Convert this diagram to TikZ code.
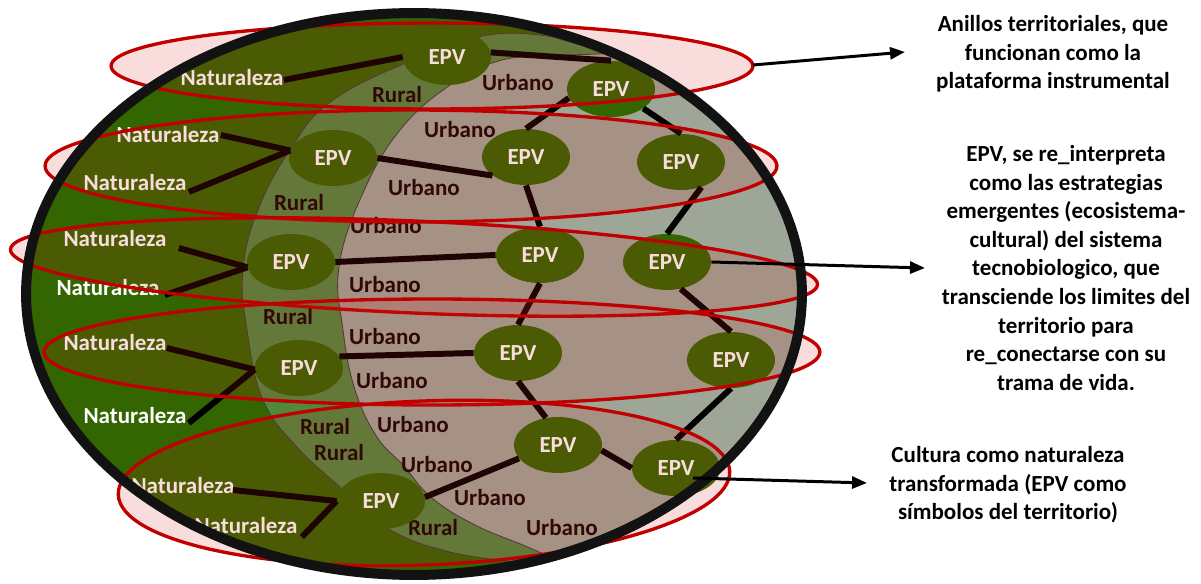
\documentclass[tikz,border=0pt]{standalone}
\usepackage{fontspec}
\setmainfont{Carlito}
\usetikzlibrary{arrows.meta,calc,shapes.geometric}
\definecolor{gouter}{RGB}{51,102,0}
\definecolor{grural}{RGB}{80,136,62}
\definecolor{gurb}{RGB}{158,166,152}
\definecolor{ringfill}{RGB}{215,30,30}
\definecolor{ringline}{RGB}{192,0,0}
\definecolor{dtext}{RGB}{20,5,5}
\newcommand{\mylab}{\fontsize{13.1}{15}\selectfont\bfseries}
\newcommand{\mynote}{\fontsize{13.1}{16.3}\selectfont\bfseries}
\begin{document}
\begin{tikzpicture}[x=0.02cm,y=-0.02cm,
  epv/.style={ellipse, fill=gouter, text=white, minimum width=1.76cm, minimum height=1.12cm, inner sep=0pt, font=\mylab},
  nat/.style={text=white, inner sep=0pt, font=\mylab},
  zone/.style={text=dtext, inner sep=0pt, font=\mylab},
  conn/.style={line width=3.4pt, draw=black},
  ring/.style={fill=ringfill, fill opacity=0.15, draw=ringline, line width=1.9pt},
  arr/.style={line width=1.7pt, draw=black, -{Triangle[length=0.3cm,width=0.24cm]}},
  note/.style={align=center, font=\mynote, inner sep=0pt, text=black},
  thinb/.style={draw=black!75, line width=0.5pt}]
\useasboundingbox (0,0) rectangle (1201,584);
\fill[white] (0,0) rectangle (1201,584);
% big ellipse fill
\fill[gouter] (414,294) ellipse [x radius=7.76cm, y radius=5.62cm];
\begin{scope}
  \clip (414,294) ellipse [x radius=7.76cm, y radius=5.62cm];
  \fill[grural] plot[smooth, tension=0.7] coordinates {(660,40) (597,47) (540,35) (483,36) (420,57) (333,100) (290,150) (258,210) (243,270) (247,330) (263,400) (297,447) (340,487) (387,528) (450,552) (530,565) (600,585)} -- (1000,650) -- (1000,-50) -- cycle;
  \draw[thinb] plot[smooth, tension=0.7] coordinates {(660,40) (597,47) (540,35) (483,36) (420,57) (333,100) (290,150) (258,210) (243,270) (247,330) (263,400) (297,447) (340,487) (387,528) (450,552) (530,565) (600,585)};
  \fill[gurb] plot[smooth, tension=0.7] coordinates {(650,50) (597,54) (540,56) (495,62) (450,85) (400,130) (362,195) (339,267) (343,330) (355,390) (377,437) (403,465) (432,498) (475,525) (530,548) (590,575)} -- (1000,650) -- (1000,-50) -- cycle;
  \draw[thinb] plot[smooth, tension=0.7] coordinates {(650,50) (597,54) (540,56) (495,62) (450,85) (400,130) (362,195) (339,267) (343,330) (355,390) (377,437) (403,465) (432,498) (475,525) (530,548) (590,575)};
\end{scope}
% zone labels
\node[zone] (zr1) at (397,95) {Rural};
\node[zone] (zr2) at (299,203) {Rural};
\node[zone] (zr3) at (288,317) {Rural};
\node[zone] (zr4) at (325,427) {Rural};
\node[zone] (zr5) at (339,453) {Rural};
\node[zone] (zr6) at (433,528) {Rural};
\node[zone] (zu1) at (518,83) {Urbano};
\node[zone] (zu2) at (460,130) {Urbano};
\node[zone] (zu3) at (424,188) {Urbano};
\node[zone] (zu4) at (386,226) {Urbano};
\node[zone] (zu5) at (385,285) {Urbano};
\node[zone] (zu6) at (385,337) {Urbano};
\node[zone] (zu7) at (392,381) {Urbano};
\node[zone] (zu8) at (413,425) {Urbano};
\node[zone] (zu9) at (437,465) {Urbano};
\node[zone] (zu10) at (490,498) {Urbano};
\node[zone] (zu11) at (562,528) {Urbano};
% Naturaleza labels
\node[nat] (n1) at (232,78) {Naturaleza};
\node[nat] (n2a) at (168,135) {Naturaleza};
\node[nat] (n2b) at (135,183) {Naturaleza};
\node[nat] (n3a) at (115,239) {Naturaleza};
\node[nat] (n3b) at (108,288) {Naturaleza};
\node[nat] (n4a) at (115,343) {Naturaleza};
\node[nat] (n4b) at (135,416) {Naturaleza};
\node[nat] (n5a) at (183,486) {Naturaleza};
\node[nat] (n5b) at (246,526) {Naturaleza};
% EPV nodes
\node[epv] (e1) at (447,57) {EPV};
\node[epv] (e2) at (611,89) {EPV};
\node[epv] (e3) at (333,158) {EPV};
\node[epv] (e4) at (526,157) {EPV};
\node[epv] (e5) at (681,162) {EPV};
\node[epv] (e6) at (291,262) {EPV};
\node[epv] (e7) at (540,255) {EPV};
\node[epv] (e8) at (667,262) {EPV};
\node[epv] (e9) at (299,368) {EPV};
\node[epv] (e10) at (518,353) {EPV};
\node[epv] (e11) at (731,360) {EPV};
\node[epv] (e12) at (558,445) {EPV};
\node[epv] (e13) at (676,468) {EPV};
\node[epv] (e14) at (381,501) {EPV};
% connectors
\draw[conn] ([shift={(0,2)}]n1.east) -- (e1.west);
\draw[conn] ([shift={(1,0)}]n2a.east) -- (e3.170);
\draw[conn] ([shift={(2,9)}]n2b.east) -- (e3.170);
\draw[conn] ([shift={(12,9)}]n3a.east) -- (e6.187);
\draw[conn] ([shift={(5,7)}]n3b.east) -- (e6.187);
\draw[conn] ([shift={(0,5)}]n4a.east) -- (e9.182);
\draw[conn] ([shift={(2,7)}]n4b.east) -- (e9.182);
\draw[conn] ([shift={(-2,4)}]n5a.east) -- (e14.west);
\draw[conn] ([shift={(4,11)}]n5b.east) -- (e14.west);
\draw[conn] (e1.6) -- (e2.north);
\draw[conn] (e2.192) -- (e4.north);
\draw[conn] (e2.-31) -- (e5.north);
\draw[conn] (e3.east) -- (e4.209);
\draw[conn] (e4.south) -- (e7.north);
\draw[conn] (e5.-51) -- (e8.north);
\draw[conn] (e6.east) -- (e7.west);
\draw[conn] (e7.south) -- (e10.north);
\draw[conn] (e8.-63) -- (e11.north);
\draw[conn] (e9.16) -- (e10.west);
\draw[conn] (e10.south) -- (e12.114);
\draw[conn] (e11.south) -- (e13.north);
\draw[conn] (e12.-7) -- (e13.west);
\draw[conn] (e12.199) -- (e14.5);
% rings
\path[ring] (432,66) ellipse [x radius=6.42cm, y radius=0.86cm];
\path[ring] (411,166) ellipse [x radius=7.32cm, y radius=1.12cm];
\path[ring, rotate around={-2.5:(414,267)}] (414,267) ellipse [x radius=8.08cm, y radius=0.92cm];
\path[ring] (432,352) ellipse [x radius=7.76cm, y radius=1.06cm];
\path[ring, rotate around={2.2:(424,483)}] (424,483) ellipse [x radius=6.12cm, y radius=1.64cm];
% big border
\draw[line width=0.2cm, draw=black!93] (414,294) ellipse [x radius=7.76cm, y radius=5.62cm];
% notes
\node[note] (t1) at (1053,54) {Anillos territoriales, que\\funcionan como la\\plataforma instrumental};
\node[note] (t2) at (1066,268) {EPV, se re\_interpreta\\como las estrategias\\emergentes (ecosistema-\\cultural) del sistema\\tecnobiologico, que\\transciende los limites del\\territorio para\\re\_conectarse con su\\trama de vida.};
\node[note] (t3) at (1008,485) {Cultura como naturaleza\\transformada (EPV como\\símbolos del territorio)};
% arrows
\coordinate (r1e) at (753,65);
\coordinate (a1) at (905,52);
\coordinate (a2) at (925,268);
\coordinate (a3) at (867,483);
\draw[arr] (r1e) -- (a1);
\draw[arr] (e8.east) -- (a2);
\draw[arr] ($(e13.center)+(17,10)$) -- (a3);
\end{tikzpicture}
\end{document}
